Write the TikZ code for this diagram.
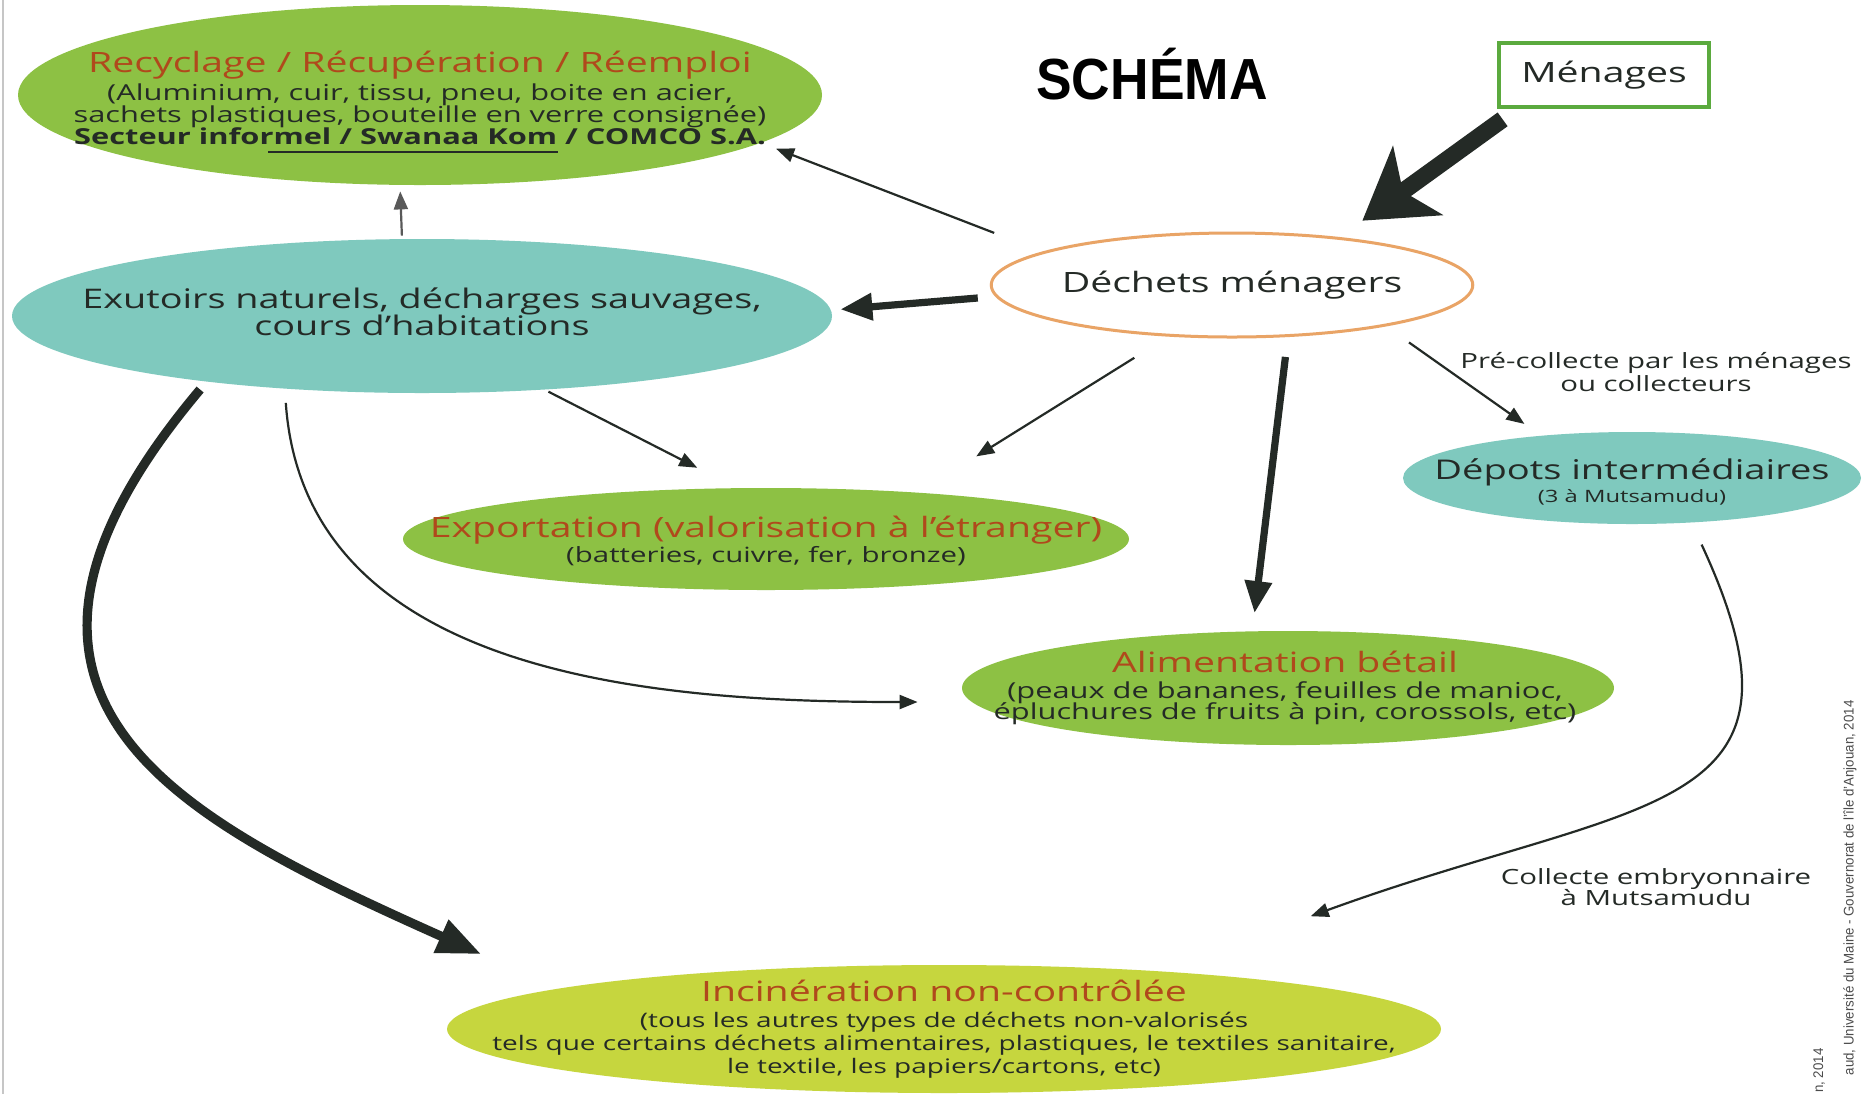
\documentclass[tikz,border=0pt]{standalone}
\usepackage{fontspec}
\setmainfont[FakeStretch=1.4]{Open Sans}
\newfontfamily\schemafont[FakeStretch=0.92]{Liberation Sans}
\newfontfamily\notefont[FakeStretch=0.95]{Liberation Sans}
\usetikzlibrary{shapes.geometric,arrows.meta}
\definecolor{leaf}{HTML}{8DC144}
\definecolor{lagoon}{HTML}{7FC9BE}
\definecolor{lime}{HTML}{C6D63E}
\definecolor{rust}{HTML}{B0491C}
\definecolor{ink}{HTML}{242A26}
\definecolor{peel}{HTML}{E9A466}
\definecolor{frame}{HTML}{5BAA3E}
\newcommand\blobhead[1]{{\color{rust}\fontsize{14}{14}\selectfont #1}}
\lineskiplimit=-20pt
\lineskip=0pt

\begin{document}
\begin{tikzpicture}[x=0.5pt,y=-0.5pt,
  blob/.style={ellipse,inner sep=0pt},
  txt/.style={align=center,text=ink,inner sep=0pt,font=\fontsize{11}{11}\selectfont},
  flow/.style={draw=ink,line width=1.1pt,-{Triangle[length=9pt,width=7pt]}},
  heavy/.style={draw=ink,line width=3.6pt,-{Triangle[length=16pt,width=13pt]}},
  lbl/.style={align=center,text=ink,inner sep=0pt,font=\fontsize{10.5}{11.9}\selectfont},
  note/.style={rotate=90,inner sep=0pt,text=gray!60!black,font=\notefont\fontsize{7}{7}\selectfont}]
	\path[use as bounding box,fill=white] (0,0) rectangle (1868,1094);
	\draw[gray!45,line width=1pt] (3,0) -- (3,1094);

	\node[blob,fill=leaf,minimum width=402pt,minimum height=90pt] (rec) at (420,95) {};
	\node[txt] (rect) at (420,98) {\blobhead{Recyclage / Récupération / Réemploi}\\[2.7pt]
		(Aluminium, cuir, tissu, pneu, boite en acier,\\
		sachets plastiques, bouteille en verre consignée)\\
		\textbf{Secteur informel / Swanaa Kom / COMCO S.A.}};
	\draw[ink,line width=1pt] ([shift={(-152,57)}]rec.center) -- ([shift={(138,57)}]rec.center);

	\node[font=\schemafont\bfseries\fontsize{29}{29}\selectfont] (title) at (1152,74) {SCHÉMA};
	\node[draw=frame,line width=1.8pt,minimum width=105pt,minimum height=32pt,inner sep=0pt,text=ink,font=\fontsize{14}{14}\selectfont] (men) at (1604,75) {Ménages};

	\node[blob,fill=lagoon,minimum width=410pt,minimum height=77pt] (exu) at (422,316) {};
	\node[txt,font=\fontsize{13.5}{13.7}\selectfont] (exut) at (422,312) {Exutoirs naturels, décharges sauvages,\\cours d’habitations};
	\node[blob,draw=peel,line width=1.5pt,fill=white,minimum width=233pt,minimum height=52pt,text=ink,font=\fontsize{14}{14}\selectfont] (dech) at (1232,285) {Déchets ménagers};

	\node[blob,fill=lagoon,minimum width=229pt,minimum height=46pt] (depot) at (1632,478) {};
	\node[txt,font=\fontsize{11}{11.9}\selectfont] (depott) at (1632,482) {{\fontsize{13.6}{13.6}\selectfont Dépots intermédiaires}\\{\fontsize{8.5}{8.5}\selectfont (3 à Mutsamudu)}};
	\node[blob,fill=leaf,minimum width=363pt,minimum height=51pt] (expo) at (766,539) {};
	\node[txt,font=\fontsize{11}{12.5}\selectfont] (expot) at (766,541) {\blobhead{Exportation (valorisation à l’étranger)}\\{\fontsize{10.5}{10.5}\selectfont (batteries, cuivre, fer, bronze)}};
	\node[blob,fill=leaf,minimum width=326pt,minimum height=57pt] (alim) at (1288,688) {};
	\node[txt,font=\fontsize{11}{10.7}\selectfont] (alimt) at (1285,688) {\blobhead{Alimentation bétail}\\[2.4pt](peaux de bananes, feuilles de manioc,\\épluchures de fruits à pin, corossols, etc)};
	\node[blob,fill=lime,minimum width=497pt,minimum height=64pt] (inci) at (944,1029) {};
	\node[txt,font=\fontsize{10}{11.3}\selectfont] (incit) at (944,1029) {\blobhead{Incinération non-contrôlée}\\[1.8pt](tous les autres types de déchets non-valorisés\\tels que certains déchets alimentaires, plastiques, le textiles sanitaire,\\le textile, les papiers/cartons, etc)};

	\node[lbl] (pre) at (1656,372) {Pré-collecte par les ménages\\ou collecteurs};
	\node[lbl,font=\fontsize{10.5}{10.7}\selectfont] (coll) at (1656,887) {Collecte embryonnaire\\à Mutsamudu};

	\draw[ink,line width=8.5pt,-{Stealth[length=34pt,width=42pt,inset=9pt]},shorten <=9pt,shorten >=14pt] ([xshift=10pt]men.south west) -- (dech.24);
	\draw[flow,shorten <=26pt,shorten >=8pt] (dech.170) -- (rec.-8);
	\draw[flow,draw=gray!70!black,shorten <=1.5pt,shorten >=3pt] ([xshift=-10pt]exu.north) -- ([xshift=-10pt]rec.south);
	\draw[heavy,shorten <=6pt,shorten >=4pt] ([yshift=-6pt]dech.west) -- ([yshift=3pt]exu.east);
	\draw[flow,shorten <=2pt,shorten >=22pt] (exu.-31.5) -- (expo.120);
	\draw[flow,shorten <=20pt,shorten >=34pt] (dech.219) -- (expo.17);
	\draw[heavy,shorten <=10pt,shorten >=9pt] (dech.-43) -- (alim.122);
	\draw[flow,shorten <=14pt,shorten >=10pt] (dech.-15) -- (depot.155);
	\draw[flow,shorten <=7pt,shorten >=22pt] (exu.-152) .. controls +(20,290) and +(-300,0) .. ([yshift=-7pt]alim.west);
	\draw[ink,line width=4.6pt,-{Triangle[length=22pt,width=17pt]},shorten <=5pt,shorten >=42pt] (exu.197) .. controls +(-268,318) and +(-380,-170) .. (inci.174);
	\draw[flow,shorten <=12pt,shorten >=80pt] (depot.-37) .. controls +(138,297) and +(480,-175) .. (inci.15);

	\node[note,anchor=east] (srcb) at (1850,700) {aud, Université du Maine - Gouvernorat de l’île d’Anjouan, 2014};
	\node[note,anchor=east] (srca) at (1819,1048) {n, 2014};
\end{tikzpicture}
\end{document}
